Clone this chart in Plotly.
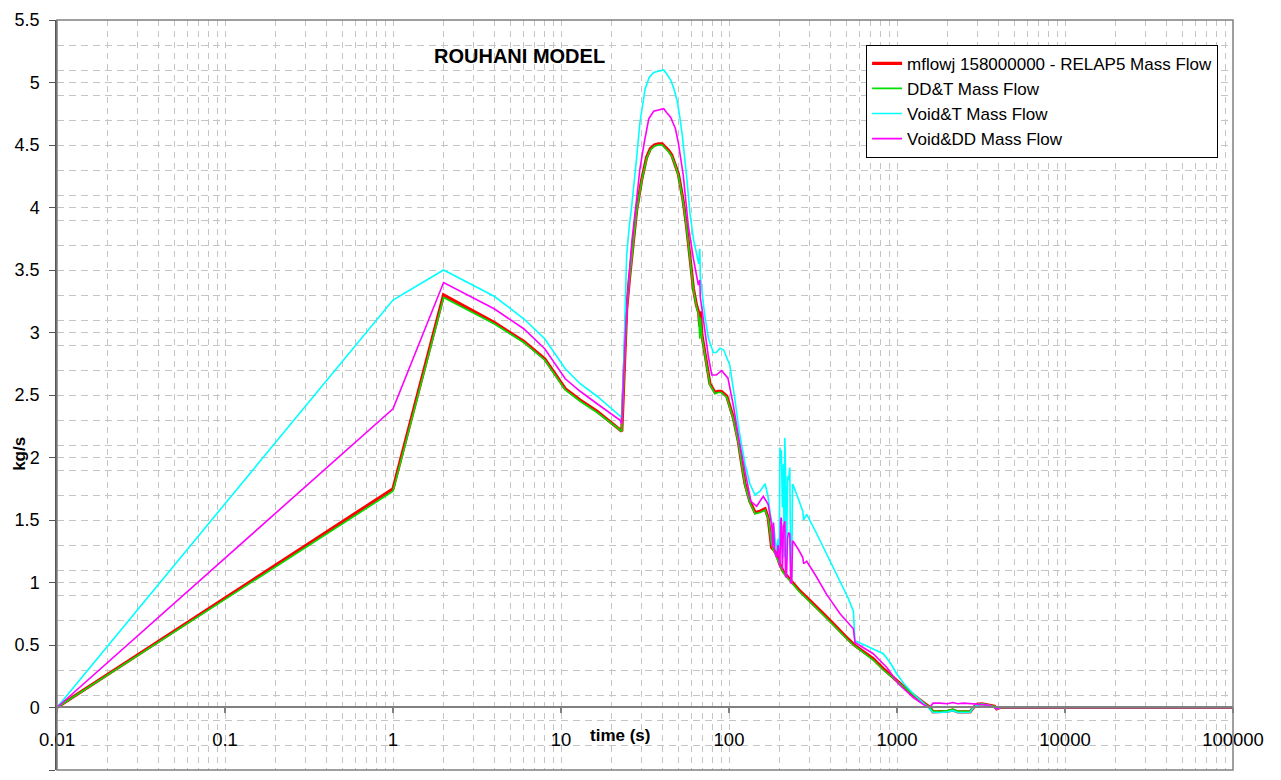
import plotly.graph_objects as go

# ---------------- data ----------------
t_red = [0.01, 1, 2, 4, 6, 8, 10.6, 13, 16.4, 23,
         23.4, 23.8, 24.2, 24.6, 25.5, 26.4, 28.2, 30.2, 32.3, 34,
         36, 38, 40, 42, 43.5, 45.6, 47.5, 49.9, 51.5, 53.4,
         55.9, 58.6, 61.4, 64, 66, 67, 67.5, 69, 72, 77,
         82.6, 86, 90, 97, 106, 113.6, 119, 124.5, 133, 143,
         153, 164, 171, 176, 179.5, 185, 192, 200, 210, 225,
         241, 265, 290, 330, 364, 410, 458, 510, 562, 640,
         722, 829, 995, 1200, 1370, 1570, 1640, 1800, 2000, 2150,
         2300, 2500, 2720, 2850, 3000, 3200, 3500, 3800, 3920, 4100, 10000, 100000]
v_red = [0, 1.75, 3.30, 3.08, 2.93, 2.79, 2.55, 2.46, 2.37, 2.21,
         2.45, 2.69, 2.95, 3.19, 3.42, 3.60, 3.98, 4.22, 4.40, 4.47,
         4.50, 4.51, 4.51, 4.48, 4.46, 4.42, 4.36, 4.27, 4.17, 4.05,
         3.85, 3.60, 3.35, 3.22, 3.16, 3.05, 3.17, 2.98, 2.82, 2.59,
         2.52, 2.53, 2.53, 2.49, 2.32, 2.13, 1.95, 1.79, 1.65, 1.56,
         1.57, 1.59, 1.52, 1.40, 1.28, 1.26, 1.23, 1.15, 1.09, 1.04,
         0.99, 0.93, 0.88, 0.81, 0.75, 0.68, 0.61, 0.55, 0.495, 0.44,
         0.39, 0.31, 0.215, 0.12, 0.06, 0.0, -0.035, -0.035, -0.03, -0.02,
         -0.035, -0.035, -0.035, 0.0, 0.025, 0.03, 0.02, 0.01, -0.01, 0.0, 0.0, 0.0]

t_green = t_red
v_green = [0, 1.73, 3.28, 3.07, 2.92, 2.78, 2.54, 2.45, 2.36, 2.21,
           2.45, 2.69, 2.95, 3.18, 3.41, 3.59, 3.97, 4.21, 4.39, 4.46,
           4.49, 4.50, 4.50, 4.47, 4.45, 4.41, 4.35, 4.26, 4.16, 4.04,
           3.84, 3.59, 3.34, 3.21, 3.14, 2.95, 3.12, 2.96, 2.81, 2.58,
           2.51, 2.52, 2.52, 2.48, 2.31, 2.12, 1.94, 1.78, 1.64, 1.55,
           1.56, 1.58, 1.51, 1.39, 1.30, 1.25, 1.20, 1.14, 1.08, 1.03,
           0.98, 0.92, 0.87, 0.80, 0.74, 0.67, 0.60, 0.54, 0.49, 0.43,
           0.38, 0.30, 0.21, 0.12, 0.06, 0.0, -0.03, -0.03, -0.025, -0.015,
           -0.03, -0.03, -0.03, 0.0, 0.025, 0.03, 0.02, 0.01, -0.01, 0.0, 0.0, 0.0]

t_cyan = [0.01, 1, 2, 4, 6, 8, 10.6, 13, 16.4, 22.4,
          23, 23.6, 24.2, 24.6, 25.5, 26.4, 28.2, 29.5, 31.7, 33.5,
          35.6, 38, 40.9, 42.5, 45, 47, 49.2, 51, 52.7, 55.9,
          58.6, 61.4, 64.3, 66, 67, 67.5, 70.5, 72, 75.5, 80.7,
          84, 88.4, 93, 97, 101, 108, 115, 124.5, 133, 143,
          153, 164, 170, 176, 180, 182, 185, 188, 192, 196,
          199, 201, 203, 205, 208, 211, 213, 215, 217, 220,
          223, 226, 230, 233, 236, 239, 241, 260, 275, 278,
          290, 330, 381, 420, 458, 510, 550, 562, 640, 722,
          829, 920, 995, 1100, 1250, 1400, 1540, 1640, 1800, 2000,
          2150, 2300, 2500, 2720, 2850, 3000, 3200, 3500, 3800, 3920,
          4100, 10000, 100000]
v_cyan = [0, 3.26, 3.50, 3.29, 3.11, 2.95, 2.71, 2.59, 2.49, 2.33,
          2.32, 2.75, 3.30, 3.62, 3.85, 4.02, 4.40, 4.68, 4.95, 5.04,
          5.08, 5.09, 5.10, 5.07, 5.02, 4.95, 4.85, 4.72, 4.58, 4.25,
          3.95, 3.75, 3.62, 3.55, 3.67, 3.45, 3.22, 3.12, 2.95, 2.84,
          2.84, 2.875, 2.86, 2.80, 2.74, 2.48, 2.21, 1.95, 1.79, 1.70,
          1.73, 1.79, 1.70, 1.55, 1.48, 1.30, 1.45, 1.35, 1.25, 1.35,
          1.22, 2.08, 1.95, 2.06, 1.60, 1.95, 1.20, 2.157, 1.90, 1.17,
          1.85, 1.82, 1.92, 1.10, 1.01, 1.785, 1.78, 1.66, 1.57, 1.50,
          1.545, 1.40, 1.23, 1.12, 1.01, 0.88, 0.77, 0.535, 0.50, 0.468,
          0.43, 0.35, 0.27, 0.19, 0.11, 0.05, 0.0, -0.04, -0.04, -0.035,
          -0.025, -0.04, -0.04, -0.04, 0.0, 0.02, 0.025, 0.02, 0.0, -0.01,
          0, 0, 0]

t_mag = [0.01, 1, 2, 4, 6, 8, 10.6, 13, 16.4, 22.4,
         23, 23.6, 24.2, 25.3, 26.4, 28.2, 29.5, 31.3, 33.3, 35.6,
         38, 40.9, 42.5, 45, 48, 49.9, 53.4, 57.2, 61.4, 65.7,
         67, 67.5, 69, 72, 75.5, 79, 84, 90.4, 98.6, 106,
         115, 124.5, 135, 146, 160, 171, 177, 180, 182, 184,
         187, 192, 196, 199, 201, 203, 205, 208, 211, 215,
         217, 220, 223, 226, 230, 233, 236, 239, 241, 260,
         275, 278, 290, 330, 381, 458, 550, 562, 640, 722,
         870, 1020, 1250, 1450, 1560, 1640, 1800, 2000, 2150, 2300,
         2500, 2780, 3050, 3500, 3800, 3920, 4100, 10000, 100000]
v_mag = [0, 2.39, 3.40, 3.19, 3.03, 2.87, 2.63, 2.53, 2.43, 2.30,
         2.27, 2.60, 3.00, 3.41, 3.73, 4.07, 4.31, 4.52, 4.71, 4.77,
         4.78, 4.79, 4.76, 4.72, 4.63, 4.52, 4.26, 3.86, 3.59, 3.38,
         3.42, 3.28, 3.19, 3.00, 2.80, 2.66, 2.66, 2.695, 2.635, 2.42,
         2.13, 1.89, 1.65, 1.61, 1.69, 1.625, 1.50, 1.45, 1.28, 1.48,
         1.25, 1.20, 1.30, 1.15, 1.12, 1.50, 1.52, 1.10, 1.45, 1.49,
         1.05, 1.04, 1.35, 1.40, 1.39, 1.00, 0.99, 1.33, 1.33, 1.26,
         1.20, 1.15, 1.17, 1.05, 0.905, 0.75, 0.63, 0.52, 0.47, 0.43,
         0.32, 0.19, 0.08, 0.02, 0.0, 0.035, 0.035, 0.03, 0.04, 0.03,
         0.035, 0.03, 0.03, 0.02, 0.0, -0.01, 0, 0, 0]

series_names = ["mflowj 158000000 - RELAP5 Mass Flow", "DD&T Mass Flow",
                "Void&T Mass Flow", "Void&DD Mass Flow"]

x_ticks = [0.01, 0.1, 1, 10, 100, 1000, 10000, 100000]
x_ticktext = ["0.01", "0.1", "1", "10", "100", "1000", "10000", "100000"]
y_ticks = [-0.5, 0, 0.5, 1, 1.5, 2, 2.5, 3, 3.5, 4, 4.5, 5, 5.5]
y_ticktext = ["-0.5", "0", "0.5", "1", "1.5", "2", "2.5", "3", "3.5", "4", "4.5", "5", "5.5"]

# minor grid positions
x_minor = [m * d for d in [0.01, 0.1, 1, 10, 100, 1000, 10000] for m in range(2, 10)]
y_minor = [round(-0.3 + 0.2 * k, 2) for k in range(29)]

# ---------------- figure ----------------
FONT = "Liberation Sans, Arial, sans-serif"
fig = go.Figure()
styles = [("#FF0000", 3.2), ("#00E000", 1.6), ("#00FFFF", 1.6), ("#FF00FF", 1.6)]
data = [(t_red, v_red), (t_green, v_green), (t_cyan, v_cyan), (t_mag, v_mag)]
for (t, v), name, (col, w) in zip(data, series_names, styles):
    fig.add_trace(go.Scatter(x=t, y=v, mode="lines", name=name,
                             line=dict(color=col, width=w)))

GRID = "#c4c4c4"
fig.update_layout(
    width=1281, height=780,
    margin=dict(l=57, r=48, t=18, b=10),
    paper_bgcolor="white", plot_bgcolor="white",
    font=dict(family=FONT, size=18, color="black"),
    showlegend=True,
    legend=dict(x=0.688, y=0.967, xanchor="left", yanchor="top",
                bgcolor="white", bordercolor="black", borderwidth=1,
                font=dict(family=FONT, size=17, color="black"),
                tracegroupgap=0),
    xaxis=dict(type="log", range=[-2, 5], anchor="free", position=0.0838,
               showline=True, linecolor="#808080", linewidth=1.5,
               ticks="outside", ticklen=5, tickcolor="#808080", tickwidth=1.5,
               tickmode="array", tickvals=x_ticks, ticktext=x_ticktext,
               ticklabelstandoff=11, tickfont=dict(size=18.5),
               showgrid=True, gridcolor=GRID, griddash="6px,5px", gridwidth=1,
               zeroline=False,
               minor=dict(tickmode="array", tickvals=x_minor, showgrid=True,
                          gridcolor=GRID, griddash="6px,5px", gridwidth=1, ticks="")),
    yaxis=dict(range=[-0.5, 5.5], showline=True, linecolor="#555555", linewidth=1.5,
               ticks="outside", ticklen=6, tickcolor="#555555",
               tickmode="array", tickvals=y_ticks, ticktext=y_ticktext,
               ticklabelstandoff=6,
               showgrid=True, gridcolor=GRID, griddash="7px,5px", gridwidth=1,
               zeroline=False,
               minor=dict(tickmode="array", tickvals=y_minor, showgrid=True,
                          gridcolor=GRID, griddash="7px,5px", gridwidth=1, ticks="")),
    shapes=[dict(type="rect", xref="paper", yref="paper", x0=0, x1=1, y0=0, y1=1,
                 line=dict(color="#808080", width=1.5), layer="above")],
    annotations=[
        dict(text="<b>ROUHANI MODEL</b>", xref="paper", yref="paper",
             x=(519 - 57) / 1176, y=(770 - 54) / 752, xanchor="center", yanchor="middle",
             showarrow=False, font=dict(family=FONT, size=20)),
        dict(text="<b>time (s)</b>", xref="paper", yref="paper",
             x=(620 - 57) / 1176, y=(770 - 735) / 752, xanchor="center", yanchor="middle",
             showarrow=False, font=dict(family=FONT, size=17)),
        dict(text="<b>kg/s</b>", xref="paper", yref="paper",
             x=(20 - 57) / 1176, y=(770 - 453) / 752, xanchor="center", yanchor="middle",
             textangle=-90, showarrow=False, font=dict(family=FONT, size=17)),
    ],
)

fig.write_html("out.html", post_script="document.body.style.margin='0';",
               config={"displayModeBar": False})
